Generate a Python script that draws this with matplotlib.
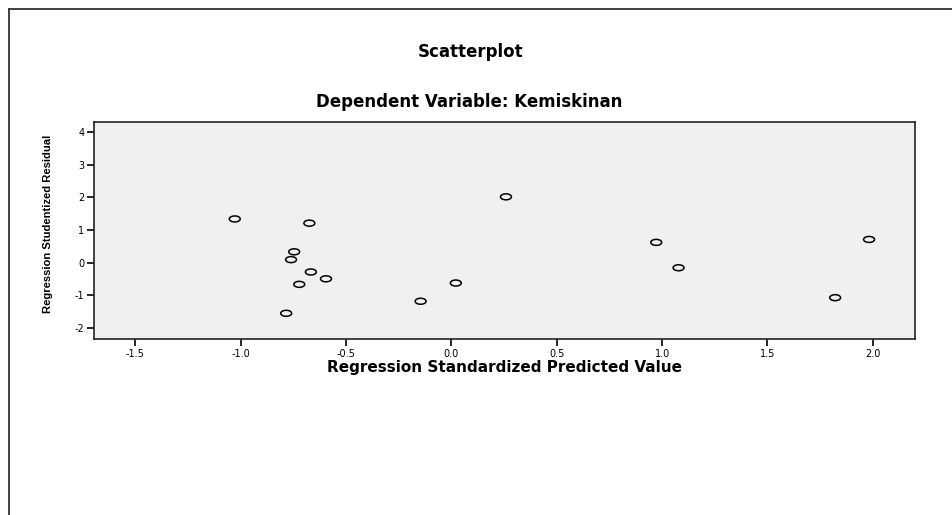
import matplotlib
matplotlib.use("Agg")
import matplotlib.pyplot as plt
from matplotlib.path import Path
from matplotlib.transforms import Affine2D
from matplotlib.lines import Line2D

# Data
pred = [-1.028, -0.674, -0.746, -0.761, -0.667, -0.595, -0.722, -0.784,
        0.259, 0.972, 1.982, 1.078, 0.021, -0.146, 1.821]
resid = [1.34, 1.21, 0.33, 0.09, -0.29, -0.50, -0.67, -1.56,
         2.02, 0.62, 0.71, -0.16, -0.63, -1.19, -1.08]
xticks = [-1.5, -1.0, -0.5, 0.0, 0.5, 1.0, 1.5, 2.0]
yticks = [-2, -1, 0, 1, 2, 3, 4]
title = "Scatterplot"
subtitle = "Dependent Variable: Kemiskinan"
xlabel = "Regression Standardized Predicted Value"
ylabel = "Regression Studentized Residual"

W, H = 953, 515
plt.rcParams['font.family'] = ['DejaVu Sans']
fig = plt.figure(figsize=(W / 100, H / 100), dpi=100)
fig.patch.set_facecolor('white')

# outer frame (top and left lines)
fig.add_artist(Line2D([9 / W, 1.0], [1 - 9 / H, 1 - 9 / H], color='#333333', lw=1.3,
                      transform=fig.transFigure))
fig.add_artist(Line2D([9 / W, 9 / W], [1 - 9 / H, 0.0], color='#333333', lw=1.3,
                      transform=fig.transFigure))

left, right, top, bottom = 94, 915, 122, 339
ax = fig.add_axes([left / W, 1 - bottom / H, (right - left) / W, (bottom - top) / H])
ax.set_facecolor('#f0f0f0')

ell = Path.unit_circle().transformed(Affine2D().scale(1.0, 0.55))
ax.scatter(pred, resid, marker=ell, s=62, facecolors='none', edgecolors='black',
           linewidths=1.1, zorder=3)

ax.set_xlim(-1.696, 2.2)
ax.set_ylim(-2.35, 4.32)
ax.set_xticks(xticks)
ax.set_xticklabels([f"{v:.1f}" for v in xticks])
ax.set_yticks(yticks)
ax.set_yticklabels([str(v) for v in yticks])
ax.tick_params(direction='out', length=5, width=1.2, labelsize=7, pad=2, color='black')
for s in ax.spines.values():
    s.set_linewidth(1.2)
    s.set_color('#222222')

ax.set_xlabel(xlabel, fontsize=11, fontweight='bold', labelpad=1)

fig.text(48.5 / W, 1 - 224 / H, ylabel, rotation=90, ha='center', va='center',
         fontsize=8.1, fontweight='bold', family=['Liberation Sans', 'DejaVu Sans'])
fig.text(471 / W, 1 - 52 / H, title, ha='center', va='center', fontsize=12, fontweight='bold')
fig.text(469 / W, 1 - 102 / H, subtitle, ha='center', va='center', fontsize=12, fontweight='bold')

fig.savefig("out.png", dpi=100)
